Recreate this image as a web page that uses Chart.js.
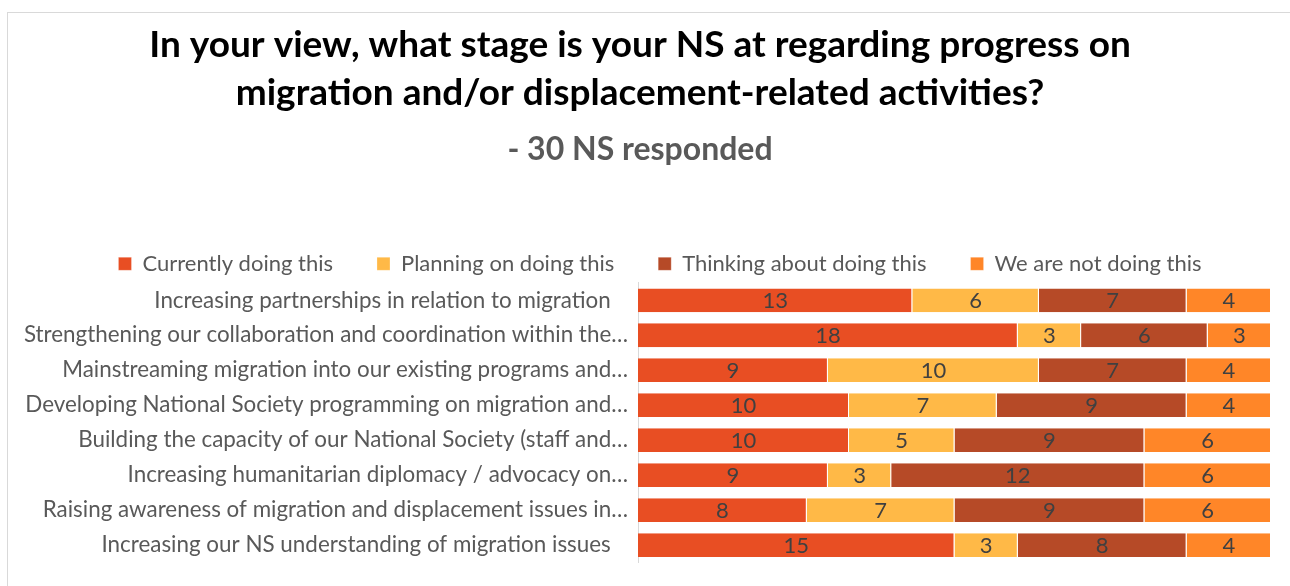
<!DOCTYPE html>
<html>
<head>
<meta charset="utf-8">
<script src="https://cdn.jsdelivr.net/npm/chart.js@4.4.0/dist/chart.umd.min.js"></script>
<style>
  html, body { margin: 0; padding: 0; background: #fff; }
  #frame {
    position: absolute; left: 7px; top: 12px; width: 1400px; height: 700px;
    border-left: 1px solid #d9d9d9; border-top: 1px solid #d9d9d9;
  }
  #wrap { position: absolute; left: 0; top: 0; width: 1290px; height: 586px; }
</style>
</head>
<body>
<div id="frame"></div>
<div id="wrap"><canvas id="myChart" width="1290" height="586"></canvas></div>
<script>
const gCategories = [
  'Increasing partnerships in relation to migration   ',
  'Strengthening our collaboration and coordination within the…',
  'Mainstreaming migration into our existing programs and…',
  'Developing National Society programming on migration and…',
  'Building the capacity of our National Society (staff and…',
  'Increasing humanitarian diplomacy / advocacy on…',
  'Raising awareness of migration and displacement issues in…',
  'Increasing our NS understanding of migration issues   '
]
const gSeriesNames = ['Currently doing this', 'Planning on doing this', 'Thinking about doing this', 'We are not doing this']
const gCurrently = [13, 18, 9, 10, 10, 9, 8, 15]
const gPlanning = [6, 3, 10, 7, 5, 3, 7, 3]
const gThinking = [7, 6, 7, 9, 9, 12, 9, 8]
const gNotDoing = [4, 3, 4, 4, 6, 6, 6, 4]
const gColors = ['#E84E23', '#FFB947', '#B64A27', '#FF8628']

const gFont = 'Lato'

// draws the value in the middle of each bar segment
const barLabels = {
  id: 'barLabels',
  afterDatasetsDraw(chart) {
    const ctx = chart.ctx
    ctx.save()
    ctx.font = `22px ${gFont}`
    ctx.fillStyle = '#404040'
    ctx.textAlign = 'center'
    ctx.textBaseline = 'middle'
    chart.data.datasets.forEach((ds, i) => {
      chart.getDatasetMeta(i).data.forEach((bar, j) => {
        ctx.fillText(ds.data[j], (bar.x + bar.base) / 2, bar.y + 1)
      })
    })
    ctx.restore()
  }
}

// legend items are spaced widely, but the box itself should stay short,
// and it sits a bit right of the title
const legendTweak = {
  id: 'legendTweak',
  beforeLayout(chart) {
    const lg = chart.legend
    if (lg && !lg._patched) {
      const fit = lg.fit
      lg.fit = function () {
        fit.call(this)
        this.height = 74
      }
      lg._patched = true
    }
  },
  afterLayout(chart) {
    chart.legend.left += 20
    chart.legend.right += 20
  }
}

const ctx = document.getElementById('myChart').getContext('2d')
new Chart(ctx, {
  type: 'bar',
  data: {
    labels: gCategories,
    datasets: [gCurrently, gPlanning, gThinking, gNotDoing].map((d, i) => ({
      label: gSeriesNames[i],
      data: d,
      backgroundColor: gColors[i],
      borderColor: '#ffffff',
      borderWidth: { right: 1 },
      borderSkipped: false,
      barPercentage: 0.68,
      categoryPercentage: 1
    }))
  },
  options: {
    responsive: false,
    animation: false,
    indexAxis: 'y',
    layout: { padding: { left: 9, right: 19, bottom: 21, top: 0 } },
    scales: {
      x: { stacked: true, min: 0, max: 30, display: false },
      y: {
        stacked: true,
        afterFit(scale) { scale.width = 629 },
        grid: { display: false, drawTicks: false },
        border: { display: true, color: '#d9d9d9', width: 1 },
        ticks: {
          padding: 10,
          color: '#595959',
          font: { family: gFont, size: 22.4 }
        }
      }
    },
    plugins: {
      title: {
        display: true,
        text: ['In your view, what stage is your NS at regarding progress on', 'migration and/or displacement-related activities?'],
        color: '#000000',
        font: { family: gFont, size: 37, weight: 'bold', lineHeight: 1.3 },
        padding: { top: 21, bottom: 16 }
      },
      subtitle: {
        display: true,
        text: '- 30 NS responded',
        color: '#595959',
        font: { family: gFont, size: 32, weight: 'bold', lineHeight: 1.05 },
        padding: { top: 0, bottom: 42 }
      },
      legend: {
        position: 'top',
        labels: {
          boxWidth: 13,
          boxHeight: 13,
          padding: 44,
          color: '#595959',
          font: { family: gFont, size: 22 }
        }
      },
      tooltip: { enabled: false }
    }
  },
  plugins: [barLabels, legendTweak]
})
</script>
</body>
</html>
